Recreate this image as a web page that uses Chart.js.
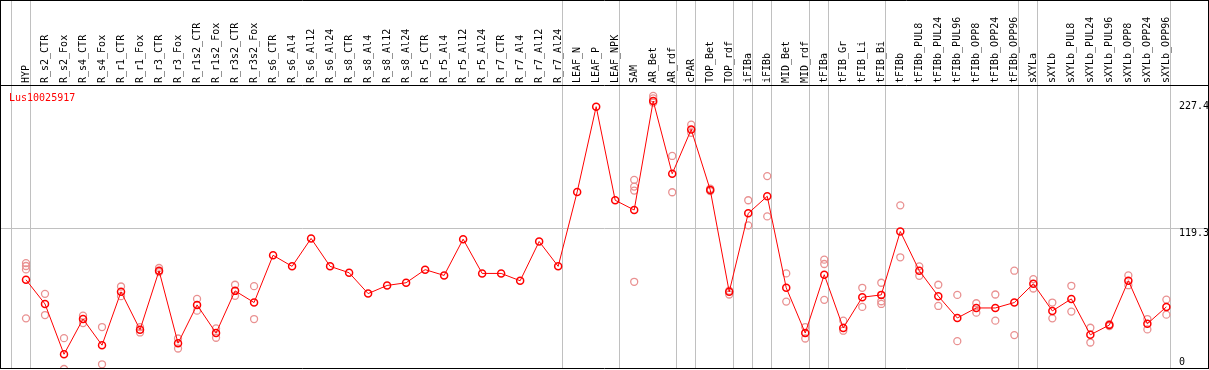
<!DOCTYPE html>
<html>
<head>
    <title>Lus10025917</title>
    <meta charset="UTF-8">
    <style>
        body { margin: 0; padding: 0; background: #fff; }
        #wrap { width: 1209px; height: 370px; }
    </style>
</head>
<body>
    <div id="wrap">
        <canvas id="exprChart" width="1209" height="370"></canvas>
    </div>

    <script src="https://cdn.jsdelivr.net/npm/chart.js"></script>
    <script>
        const geneName = 'Lus10025917';

        const categories = [
            'HYP', 'R_s2_CTR', 'R_s2_Fox', 'R_s4_CTR', 'R_s4_Fox', 'R_r1_CTR', 'R_r1_Fox',
            'R_r3_CTR', 'R_r3_Fox', 'R_r1s2_CTR', 'R_r1s2_Fox', 'R_r3s2_CTR', 'R_r3s2_Fox',
            'R_s6_CTR', 'R_s6_Al4', 'R_s6_Al12', 'R_s6_Al24', 'R_s8_CTR', 'R_s8_Al4',
            'R_s8_Al12', 'R_s8_Al24', 'R_r5_CTR', 'R_r5_Al4', 'R_r5_Al12', 'R_r5_Al24',
            'R_r7_CTR', 'R_r7_Al4', 'R_r7_Al12', 'R_r7_Al24', 'LEAF_N', 'LEAF_P', 'LEAF_NPK',
            'SAM', 'AR_Bet', 'AR_rdf', 'cPAR', 'TOP_Bet', 'TOP_rdf', 'iFIBa', 'iFIBb',
            'MID_Bet', 'MID_rdf', 'tFIBa', 'tFIB_Gr', 'tFIB_Li', 'tFIB_Bi', 'tFIBb',
            'tFIBb_PUL8', 'tFIBb_PUL24', 'tFIBb_PUL96', 'tFIBb_OPP8', 'tFIBb_OPP24', 'tFIBb_OPP96',
            'sXYLa', 'sXYLb', 'sXYLb_PUL8', 'sXYLb_PUL24', 'sXYLb_PUL96', 'sXYLb_OPP8',
            'sXYLb_OPP24', 'sXYLb_OPP96'
        ];

        // mean expression per sample
        const meanValues = [
            75.7, 55.2, 12.5, 42.4, 20.2, 65.5, 33.3, 83.4, 21.9, 54.4, 30.5, 66.3, 56.4,
            96.5, 87.1, 110.8, 87.1, 81.7, 64.0, 70.9, 73.2, 84.3, 79.4, 110.2, 81.1,
            81.1, 74.9, 108.2, 87.1, 150.3, 222.6, 143.2,
            134.9, 227.4, 165.7, 203.2, 152.0, 65.5, 132.1, 146.6,
            68.9, 30.5, 80.0, 34.8, 60.9, 62.9, 116.7,
            83.4, 61.8, 43.3, 51.8, 51.8, 56.4,
            72.3, 49.3, 59.5, 29.0, 37.3, 74.9, 38.4, 52.7
        ];

        // individual replicates (same order as categories)
        const replicateValues = [
            [89.9, 87.4, 84.5, 43.0], [63.8, 45.8], [26.2, 0], [45.3, 39.0], [35.6, 4.0],
            [70.0, 61.8], [35.5, 31.0], [85.7, 82.3], [25.9, 17.4], [59.5, 49.5],
            [34.4, 26.5], [71.5, 62.1], [70.3, 42.4],
            [], [], [], [], [], [], [], [], [], [], [], [], [], [], [], [],
            [], [], [],
            [160.5, 154.8, 151.4, 74.0], [231.7, 229.7, 226.0], [180.8, 150.0], [207.3, 200.4],
            [153.0, 151.0], [66.5, 63.2], [143.2, 121.9], [163.7, 129.5],
            [81.1, 57.2], [35.6, 25.9], [92.8, 89.1, 58.7], [41.0, 32.5], [68.9, 52.7],
            [73.2, 57.5, 55.2], [138.9, 94.8],
            [87.1, 79.1], [71.5, 53.5], [62.9, 23.6], [55.8, 47.8], [63.2, 41.0], [83.4, 28.8],
            [76.3, 68.3], [56.4, 43.0], [70.6, 48.7], [35.0, 22.5], [38.0, 36.5],
            [79.4, 71.1], [42.4, 33.6], [58.9, 46.1]
        ];

        // index of the last sample of each group (separator drawn after it)
        const groupEnds = [-1, 0, 28, 31, 34, 35, 37, 38, 39, 41, 42, 45, 52, 53, 60];

        const yTickValues = [0, 119.3, 227.4];
        const yMax = 241;

        const monoFont = '10px "DejaVu Sans Mono", monospace';

        const frameLines = {
            id: 'frameLines',
            beforeDatasetsDraw(chart) {
                const { ctx, chartArea } = chart;
                const xs = chart.scales.x;
                ctx.save();
                ctx.strokeStyle = '#c0c0c0';
                ctx.lineWidth = 1;
                groupEnds.forEach(k => {
                    const x = Math.round(xs.getPixelForValue(k + 0.21)) + 0.5;
                    ctx.beginPath();
                    ctx.moveTo(x, 0);
                    ctx.lineTo(x, chartArea.bottom);
                    ctx.stroke();
                });
                ctx.restore();
            },
            afterDraw(chart) {
                const { ctx, chartArea, width } = chart;
                const ys = chart.scales.y;
                ctx.save();
                ctx.strokeStyle = '#000';
                ctx.lineWidth = 1;
                ctx.beginPath();
                ctx.moveTo(0, 0.5); ctx.lineTo(width, 0.5);
                ctx.moveTo(0, chartArea.top + 0.5); ctx.lineTo(chartArea.right + 1, chartArea.top + 0.5);
                ctx.moveTo(0, chartArea.bottom - 0.5); ctx.lineTo(chartArea.right + 1, chartArea.bottom - 0.5);
                ctx.moveTo(chartArea.left - 0.5, 0); ctx.lineTo(chartArea.left - 0.5, chartArea.bottom);
                ctx.moveTo(chartArea.right + 0.5, 0); ctx.lineTo(chartArea.right + 0.5, chartArea.bottom);
                ctx.stroke();

                ctx.font = monoFont;
                ctx.fillStyle = '#000';
                ctx.textAlign = 'left';
                ctx.textBaseline = 'middle';
                yTickValues.forEach(v => {
                    let y = ys.getPixelForValue(v) + 5;
                    if (v === 0) y = chartArea.bottom - 7;
                    ctx.fillText(String(v), chartArea.right - 29, y);
                });

                ctx.fillStyle = '#ff0000';
                ctx.textBaseline = 'alphabetic';
                ctx.fillText(geneName, chartArea.left + 8, chartArea.top + 16);
                ctx.restore();
            }
        };

        window.onload = function () {
            const meanPoints = meanValues.map((v, i) => ({ x: i, y: v }));
            const repPoints = [];
            replicateValues.forEach((reps, i) => {
                reps.forEach(v => repPoints.push({ x: i, y: v }));
            });

            const ctx = document.getElementById('exprChart').getContext('2d');
            new Chart(ctx, {
                type: 'scatter',
                data: {
                    datasets: [
                        {
                            label: 'mean',
                            data: meanPoints,
                            showLine: true,
                            borderColor: '#ff0000',
                            borderWidth: 1,
                            pointStyle: 'circle',
                            pointRadius: 3.5,
                            pointBorderWidth: 1.5,
                            pointBorderColor: '#ff0000',
                            pointBackgroundColor: 'rgba(0,0,0,0)',
                            order: 0
                        },
                        {
                            label: 'replicates',
                            data: repPoints,
                            showLine: false,
                            pointStyle: 'circle',
                            pointRadius: 3.5,
                            pointBorderWidth: 1.3,
                            pointBorderColor: '#e99191',
                            pointBackgroundColor: 'rgba(0,0,0,0)',
                            order: 1
                        }
                    ]
                },
                options: {
                    responsive: false,
                    animation: false,
                    layout: { autoPadding: false, padding: { top: 1, left: 1, right: 1, bottom: 1 } },
                    plugins: {
                        legend: { display: false },
                        tooltip: { enabled: false }
                    },
                    scales: {
                        x: {
                            type: 'linear',
                            position: 'top',
                            min: -1.315,
                            max: 62.19,
                            afterBuildTicks: (scale) => {
                                scale.ticks = categories.map((_, i) => ({ value: i }));
                            },
                            afterFit: (scale) => {
                                scale.height = 84;
                                scale.paddingLeft = 0;
                                scale.paddingRight = 0;
                                scale.paddingTop = 0;
                                scale.paddingBottom = 0;
                            },
                            ticks: {
                                autoSkip: false,
                                minRotation: 90,
                                maxRotation: 90,
                                padding: 2,
                                labelOffset: 12,
                                color: '#000',
                                font: { family: '"DejaVu Sans Mono", monospace', size: 10 },
                                callback: (v) => categories[v]
                            },
                            grid: { display: false, drawTicks: false },
                            border: { display: false }
                        },
                        y: {
                            min: 0,
                            max: yMax,
                            afterBuildTicks: (scale) => {
                                scale.ticks = yTickValues.map(v => ({ value: v }));
                            },
                            afterFit: (scale) => {
                                scale.width = 0;
                                scale.paddingTop = 0;
                                scale.paddingBottom = 0;
                            },
                            ticks: { display: false },
                            grid: {
                                drawTicks: false,
                                color: (c) => (c.tick && c.tick.value === 119.3) ? '#c0c0c0' : 'rgba(0,0,0,0)'
                            },
                            border: { display: false }
                        }
                    }
                },
                plugins: [frameLines]
            });
        };
    </script>
</body>
</html>
